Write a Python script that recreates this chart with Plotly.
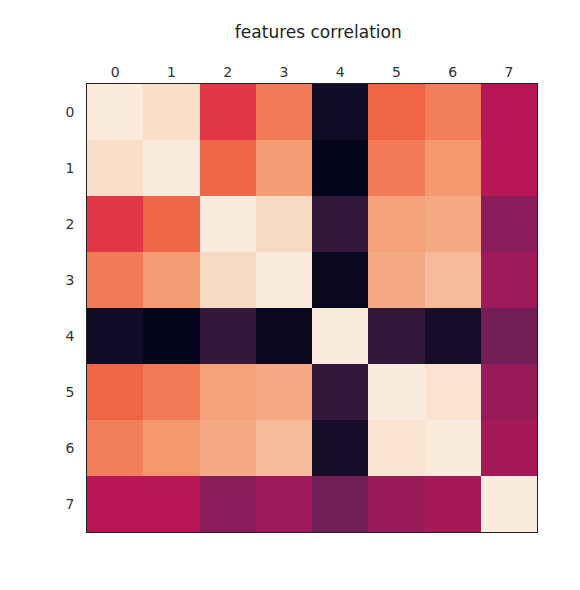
import plotly.graph_objects as go

labels = ["0", "1", "2", "3", "4", "5", "6", "7"]
corr = [
    [1.00, 0.97, 0.62, 0.75, 0.05, 0.71, 0.76, 0.50],
    [0.97, 1.00, 0.71, 0.82, 0.00, 0.75, 0.81, 0.50],
    [0.62, 0.71, 1.00, 0.96, 0.15, 0.83, 0.85, 0.38],
    [0.75, 0.82, 0.96, 1.00, 0.02, 0.85, 0.89, 0.43],
    [0.05, 0.00, 0.15, 0.02, 1.00, 0.15, 0.06, 0.32],
    [0.71, 0.75, 0.83, 0.85, 0.15, 1.00, 0.98, 0.42],
    [0.76, 0.81, 0.85, 0.89, 0.06, 0.98, 1.00, 0.45],
    [0.50, 0.50, 0.38, 0.43, 0.32, 0.42, 0.45, 1.00],
]

rocket = [
    [0.0, "#03051A"], [0.1, "#221331"], [0.2, "#451C47"], [0.3, "#6A1F56"],
    [0.4, "#921C5B"], [0.5, "#B91657"], [0.6, "#DD2C45"], [0.7, "#F06043"],
    [0.8, "#F5936A"], [0.9, "#F6C19F"], [1.0, "#FAEBDD"],
]

fig = go.Figure(go.Heatmap(z=corr, x=labels, y=labels, colorscale=rocket,
                           zmin=0, zmax=1, showscale=False))
fig.update_layout(
    width=580, height=590,
    title=dict(text="features correlation", x=0.535, y=0.97, xanchor="center",
               font=dict(size=17, color="#222")),
    font=dict(family="DejaVu Sans", size=14, color="#333"),
    margin=dict(l=79, r=51, t=76, b=66),
    plot_bgcolor="white", paper_bgcolor="white",
    xaxis=dict(side="top", showline=True, linecolor="#222", mirror=True,
               ticks="", showgrid=False, zeroline=False),
    yaxis=dict(autorange="reversed", showline=True, linecolor="#222", mirror=True,
               ticks="", showgrid=False, zeroline=False, ticksuffix="  "),
)
fig.write_html("out.html")
